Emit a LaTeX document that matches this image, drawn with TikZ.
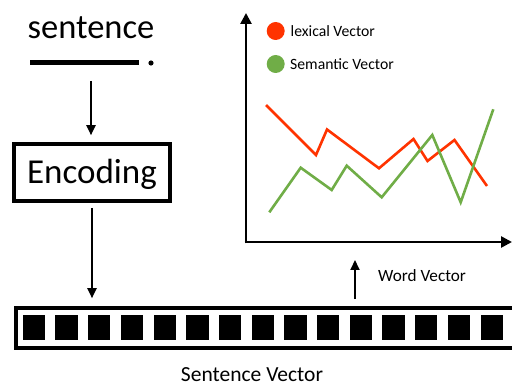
\documentclass[tikz,border=0pt]{standalone}
\usepackage{fontspec}
\setmainfont{Carlito}
\usetikzlibrary{arrows.meta}
\definecolor{lexred}{HTML}{FF3300}
\definecolor{semgreen}{HTML}{70AD47}
\tikzset{
  arr/.style={line width=2pt,-{Triangle[length=10pt,width=9pt]}},
  axisline/.style={line width=2.6pt,-{Triangle[length=11pt,width=11pt]}},
  sq/.style={fill=black,draw=none,minimum width=22.3pt,minimum height=25pt,inner sep=0pt},
  curve/.style={line width=2.6pt,line join=miter},
  legtxt/.style={anchor=west,font=\fontsize{15.7}{18}\selectfont,inner sep=0pt},
}
\begin{document}
\begin{tikzpicture}[x=1pt,y=-1pt]
\useasboundingbox (0,0) rectangle (512,385);
\clip (0,0) rectangle (512,385);
% sentence
\node[anchor=base,inner sep=0pt,font=\fontsize{34.5}{40}\selectfont] (sent) at (91,38.5) {sentence};
\draw[line width=5pt] (30,63) -- (139,63);
\fill (151,63) circle (2.6);
\coordinate (s) at (91,81);
% encoding
\node[draw,line width=3.6pt,minimum width=156pt,minimum height=57pt,inner sep=0pt,
      font=\fontsize{35}{40}\selectfont,text depth=3pt] (enc) at (92,172.5) {Encoding};
\draw[arr,shorten >=7pt] (s) -- (s |- enc.north);
% sentence vector
\node[draw,line width=3.6pt,minimum width=510pt,minimum height=40pt,inner sep=0pt,anchor=west] (sv) at (14,328) {};
\foreach \i in {0,...,15}{
  \node[sq] (q\i) at ({33.85+32.7*\i},327.5) {};
}
\draw[arr,shorten <=5pt,shorten >=8pt] (enc.south) -- (enc.south |- sv.north);
\node[anchor=base,inner sep=0pt,font=\fontsize{21.5}{24}\selectfont] (svl) at (252,381) {Sentence Vector};
% word vector
\coordinate (wv) at (355,260);
\draw[arr,shorten <=7pt] (wv |- sv.north) -- (wv);
\node[anchor=base west,inner sep=0pt,font=\fontsize{17.2}{20}\selectfont] (wvl) at (378,281.7) {Word Vector};
% chart axes
\coordinate (o) at (246,242);
\coordinate (ytip) at (246,13);
\coordinate (xtip) at (512,242);
\draw[axisline] (246,243.3) -- (ytip);
\draw[axisline] (244.7,242) -- (xtip);
% legend
\fill[lexred] (275.7,31) circle (9);
\node[legtxt] (l1) at (290.5,31.5) {lexical Vector};
\fill[semgreen] (275.7,64) circle (9);
\node[legtxt] (l2) at (290,64.5) {Semantic Vector};
% curves
\draw[curve,lexred] (266,105) -- (316,155) -- (327,129.5) -- (379,168.3) -- (413.5,139) -- (427.5,161) -- (454.5,140) -- (487,186);
\draw[curve,semgreen] (269.3,212.3) -- (300.7,167.7) -- (331.7,190) -- (346.7,165.7) -- (381.7,197.3) -- (432.3,135) -- (460.7,202.3) -- (493.3,109.3);
\end{tikzpicture}
\end{document}
